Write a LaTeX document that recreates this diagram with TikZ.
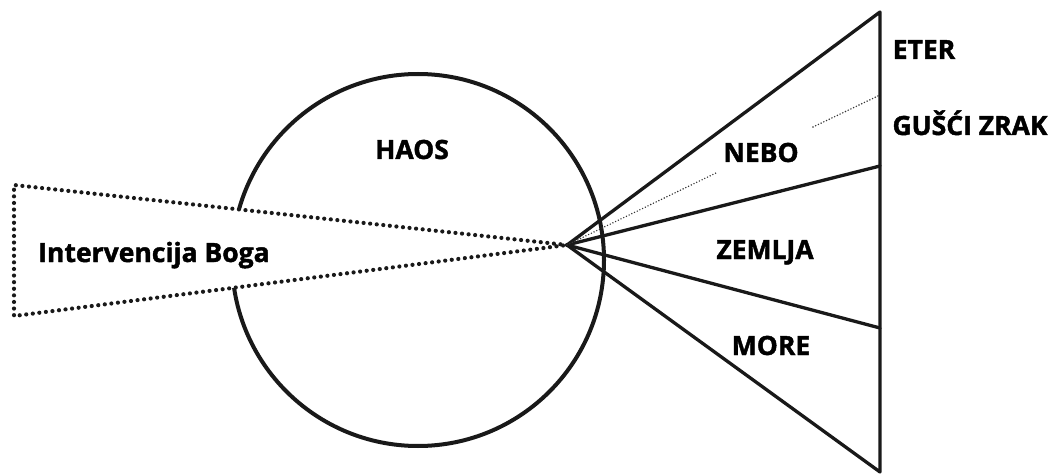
\documentclass[tikz,border=0pt]{standalone}
\usepackage{fontspec}
\setmainfont{Open Sans}[BoldFeatures={FakeBold=1.6}]
\begin{document}
\begin{tikzpicture}[x=1pt,y=-1pt,
  solid line/.style={line width=3.3pt,line cap=round,line join=round,black!90},
  bigdots/.style={line width=4.2pt,line cap=round,dash pattern=on 0pt off 6.6pt,black!90},
  smalldots/.style={line width=1.6pt,line cap=round,dash pattern=on 0pt off 3pt,black!80},
  lbl/.style={font=\fontsize{26.5}{28}\selectfont\bfseries,anchor=base,inner sep=0pt}]
\useasboundingbox (0,0) rectangle (1058,476);
% key points
\coordinate (apex) at (567,245);
\coordinate (tl) at (14,185);
\coordinate (bl) at (14,316);
\coordinate (c) at (418,260);
\coordinate (rt) at (880,12);
\coordinate (r1) at (880,166);
\coordinate (r2) at (880,328);
\coordinate (rb) at (880,472);
\coordinate (g1) at (716,173);
\coordinate (g2) at (813,127);
\coordinate (ge) at (880,95);
% circle (chaos)
\draw[line width=4pt,black!90] (c) circle[radius=186];
% divine intervention wedge
\fill[white] (tl) -- (apex) -- (bl) -- cycle;
\draw[bigdots] (apex) -- (tl) -- (bl) -- (apex);
% creation wedge
\draw[solid line] (apex) -- (rt) -- (rb) -- (apex);
\draw[solid line] (apex) -- (r1);
\draw[solid line] (apex) -- (r2);
\draw[smalldots] (apex) -- (g1);
\draw[smalldots] (g2) -- (ge);
% labels
\node[lbl] (haos) at (412,159) {HAOS};
\node[lbl] (ib) at (154,262) {Intervencija Boga};
\node[lbl] (nebo) at (761,162) {NEBO};
\node[lbl] (zemlja) at (765,259) {ZEMLJA};
\node[lbl] (more) at (771,355) {MORE};
\node[lbl] (eter) at (924,59) {ETER};
\node[lbl] (zrak) at (970,135) {GUŠĆI ZRAK};
\end{tikzpicture}
\end{document}
